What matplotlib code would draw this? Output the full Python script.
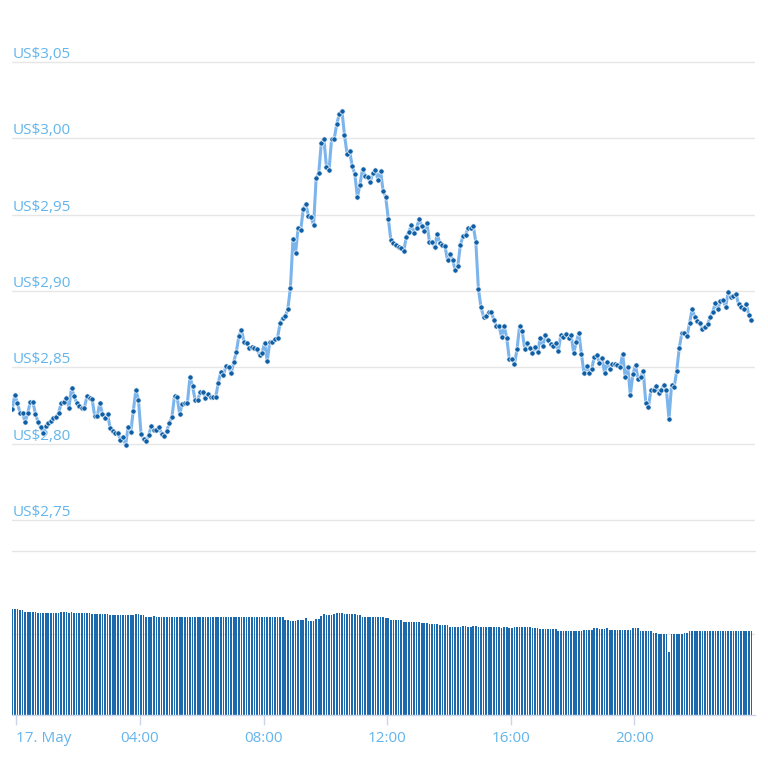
import matplotlib.pyplot as plt
import numpy as np
import pandas as pd

# 5-minute samples, 17 May
times = pd.date_range("2019-05-16 23:52", periods=288, freq="5min")

price = [
    2.8227, 2.8319, 2.8267, 2.8201, 2.8201, 2.8142, 2.8201, 2.8273, 2.8273, 2.8195,
    2.8142, 2.8109, 2.8070, 2.8116, 2.8136, 2.8149, 2.8168, 2.8175, 2.8201, 2.8267,
    2.8273, 2.8299, 2.8234, 2.8365, 2.8312, 2.8267, 2.8247, 2.8234, 2.8234, 2.8312,
    2.8299, 2.8293, 2.8181, 2.8181, 2.8267, 2.8195, 2.8168, 2.8195, 2.8103, 2.8083,
    2.8070, 2.8070, 2.8024, 2.8044, 2.7991, 2.8109, 2.8077, 2.8214, 2.8352, 2.8286,
    2.8064, 2.8031, 2.8018, 2.8057, 2.8116, 2.8090, 2.8090, 2.8109, 2.8064, 2.8050,
    2.8083, 2.8136, 2.8175, 2.8312, 2.8306, 2.8195, 2.8260, 2.8267, 2.8267, 2.8437,
    2.8378, 2.8286, 2.8286, 2.8339, 2.8339, 2.8299, 2.8326, 2.8306, 2.8306, 2.8306,
    2.8398, 2.8470, 2.8450, 2.8509, 2.8502, 2.8463, 2.8535, 2.8601, 2.8705, 2.8745,
    2.8666, 2.8660, 2.8627, 2.8633, 2.8627, 2.8620, 2.8581, 2.8594, 2.8660, 2.8542,
    2.8666, 2.8666, 2.8686, 2.8692, 2.8791, 2.8823, 2.8836, 2.8882, 2.9020, 2.9341,
    2.9249, 2.9413, 2.9400, 2.9537, 2.9570, 2.9491, 2.9485, 2.9432, 2.9740, 2.9773,
    2.9970, 2.9996, 2.9812, 2.9793, 2.9996, 2.9996, 3.0094, 3.0160, 3.0179, 3.0022,
    2.9898, 2.9917, 2.9819, 2.9767, 2.9616, 2.9694, 2.9799, 2.9753, 2.9747, 2.9714,
    2.9773, 2.9793, 2.9727, 2.9786, 2.9655, 2.9616, 2.9472, 2.9334, 2.9315, 2.9301,
    2.9288, 2.9282, 2.9262, 2.9354, 2.9387, 2.9432, 2.9380, 2.9413, 2.9472, 2.9426,
    2.9393, 2.9446, 2.9321, 2.9321, 2.9288, 2.9374, 2.9315, 2.9301, 2.9295, 2.9203,
    2.9243, 2.9203, 2.9138, 2.9164, 2.9301, 2.9360, 2.9367, 2.9413, 2.9413, 2.9426,
    2.9321, 2.9013, 2.8895, 2.8830, 2.8836, 2.8863, 2.8863, 2.8810, 2.8771, 2.8771,
    2.8699, 2.8771, 2.8692, 2.8555, 2.8555, 2.8522, 2.8620, 2.8771, 2.8738, 2.8620,
    2.8660, 2.8627, 2.8594, 2.8633, 2.8601, 2.8692, 2.8640, 2.8712, 2.8679, 2.8653,
    2.8640, 2.8660, 2.8607, 2.8712, 2.8699, 2.8719, 2.8692, 2.8712, 2.8594, 2.8666,
    2.8725, 2.8588, 2.8463, 2.8509, 2.8463, 2.8489, 2.8568, 2.8581, 2.8529, 2.8561,
    2.8463, 2.8535, 2.8489, 2.8522, 2.8522, 2.8515, 2.8502, 2.8588, 2.8437, 2.8502,
    2.8319, 2.8457, 2.8515, 2.8424, 2.8437, 2.8476, 2.8267, 2.8240, 2.8352, 2.8352,
    2.8378, 2.8332, 2.8352, 2.8384, 2.8352, 2.8162, 2.8384, 2.8371, 2.8476, 2.8627,
    2.8725, 2.8725, 2.8705, 2.8791, 2.8882, 2.8830, 2.8804, 2.8791, 2.8751, 2.8764,
    2.8784, 2.8830, 2.8863, 2.8922, 2.8882, 2.8935, 2.8941, 2.8895, 2.8994, 2.8961,
    2.8967, 2.8981, 2.8915, 2.8895, 2.8882, 2.8915, 2.8843, 2.8810,
]

volume = [
    106.3, 106.3, 106.3, 105.0, 105.0, 103.7, 103.7, 103.7, 103.7, 103.7,
    102.3, 102.3, 102.3, 102.3, 102.3, 102.3, 102.3, 102.3, 102.3, 103.7,
    103.7, 103.7, 102.3, 103.7, 102.3, 102.3, 102.3, 102.3, 102.3, 102.3,
    102.3, 101.3, 101.3, 101.3, 101.3, 101.3, 101.3, 101.3, 100.3, 100.3,
    100.3, 100.3, 100.3, 100.3, 100.3, 100.3, 100.3, 100.3, 101.3, 101.3,
    100.3, 100.3, 98.7, 98.7, 98.7, 99.7, 98.7, 98.7, 98.7, 98.7,
    98.7, 98.0, 98.7, 98.7, 98.7, 98.7, 98.7, 98.7, 98.7, 98.7,
    98.7, 98.7, 98.7, 98.7, 98.7, 98.0, 98.0, 98.0, 98.0, 98.7,
    98.7, 98.7, 98.7, 98.7, 98.7, 98.7, 98.7, 98.7, 98.7, 98.7,
    98.7, 98.7, 98.7, 98.7, 98.7, 98.7, 98.7, 98.0, 98.0, 98.0,
    98.0, 98.7, 98.0, 98.0, 98.0, 98.0, 95.3, 95.3, 94.3, 94.3,
    94.3, 95.3, 95.3, 95.3, 97.0, 94.7, 94.7, 94.7, 96.0, 96.0,
    99.3, 101.0, 100.0, 100.0, 100.0, 101.0, 102.0, 102.0, 102.0, 101.0,
    101.0, 101.0, 101.0, 101.3, 100.0, 100.0, 98.7, 98.7, 98.7, 98.7,
    98.7, 98.0, 98.0, 98.0, 98.0, 97.0, 97.0, 95.3, 95.3, 95.3,
    95.3, 95.3, 93.3, 93.3, 93.3, 93.3, 93.3, 93.3, 93.3, 92.0,
    92.0, 92.0, 91.3, 91.3, 91.3, 91.3, 90.0, 90.0, 90.0, 90.0,
    88.3, 88.3, 88.3, 88.3, 88.3, 89.3, 89.3, 88.3, 88.3, 89.3,
    89.3, 88.3, 88.3, 88.3, 88.3, 88.3, 88.3, 88.3, 88.3, 88.3,
    87.0, 88.3, 88.3, 87.0, 87.0, 88.3, 88.3, 88.3, 88.3, 88.3,
    88.3, 88.3, 87.0, 87.0, 87.0, 86.0, 86.0, 86.0, 86.0, 86.0,
    86.0, 86.0, 84.3, 84.3, 84.3, 84.3, 84.3, 84.3, 84.3, 84.3,
    84.3, 84.3, 85.7, 85.7, 85.7, 85.7, 87.0, 87.0, 86.0, 86.0,
    86.0, 87.0, 85.7, 85.7, 85.7, 85.7, 85.7, 85.7, 85.7, 85.7,
    85.7, 87.0, 87.0, 87.0, 84.3, 84.3, 84.3, 84.3, 84.3, 82.7,
    82.7, 81.7, 81.7, 81.7, 81.7, 63.0, 81.7, 81.7, 81.7, 81.7,
    81.7, 82.7, 82.7, 84.3, 84.3, 84.3, 84.3, 84.3, 84.3, 84.3,
    84.3, 84.3, 84.3, 84.3, 84.3, 84.3, 84.3, 84.3, 84.3, 84.3,
    84.3, 84.3, 84.3, 84.3, 84.3, 84.3, 84.3, 84.3,
]

price_ticks = [2.75, 2.80, 2.85, 2.90, 2.95, 3.00, 3.05]
hour_ticks = [0, 4, 8, 12, 16, 20]
hour_labels = ["17. May", "04:00", "08:00", "12:00", "16:00", "20:00"]

hours = (times - pd.Timestamp("2019-05-17")) / pd.Timedelta(hours=1)

line_color = "#7cb5ec"
dot_color = "#0f5fa6"
bar_color = "#1c6aad"
label_color = "#63b5ec"
grid_color = "#e6e6e6"
axis_color = "#ccd6eb"

plt.rcParams["font.family"] = ["Open Sans", "DejaVu Sans"]

W = 768.0
fig = plt.figure(figsize=(7.68, 7.68), dpi=100)

# price pane: pixel rows 40..551
ax = fig.add_axes([12 / W, (W - 551) / W, 743 / W, 511 / W])
px_per_unit = (520 - 62) / 0.30
ax.set_ylim(2.75 - 31 / px_per_unit, 3.05 + 22 / px_per_unit)
ax.set_xlim(-0.142, 23.90)
for spine in ax.spines.values():
    spine.set_visible(False)
ax.set_xticks([])
ax.set_yticks([])
for p in price_ticks:
    ax.axhline(p, color=grid_color, lw=1, zorder=0)
    ax.annotate("US$" + f"{p:.2f}".replace(".", ","), xy=(0, p),
                xycoords=("axes fraction", "data"), xytext=(0.5, 3),
                textcoords="offset points", ha="left", va="baseline",
                color=label_color, fontsize=11, zorder=1)
ax.plot(hours, price, color=line_color, lw=2.2, zorder=2, solid_joinstyle="round")
ax.plot(hours, price, ls="none", marker="o", ms=3.8, mfc=dot_color,
        mec="white", mew=0.5, zorder=3)

# volume pane: pixel rows 551..715
axv = fig.add_axes([12 / W, (W - 715.3) / W, 743 / W, 164.3 / W])
axv.set_ylim(0, 164.3)
axv.set_xlim(-0.142, 23.90)
axv.axhline(81.3, color=grid_color, lw=1, zorder=0)
axv.axhline(164.3, color=grid_color, lw=1, zorder=0, clip_on=False)
axv.bar(hours, volume, width=0.65 / 12, color=bar_color, lw=0, zorder=1)
for name in ["top", "left", "right"]:
    axv.spines[name].set_visible(False)
axv.spines["bottom"].set_color(axis_color)
axv.spines["bottom"].set_linewidth(1)
axv.set_yticks([])
axv.set_xticks(hour_ticks)
axv.set_xticklabels(hour_labels)
axv.tick_params(axis="x", length=7.5, width=1, color=axis_color,
                labelcolor=label_color, labelsize=11, pad=4)
axv.get_xticklabels()[0].set_horizontalalignment("left")

fig.savefig("out.png", dpi=100)
